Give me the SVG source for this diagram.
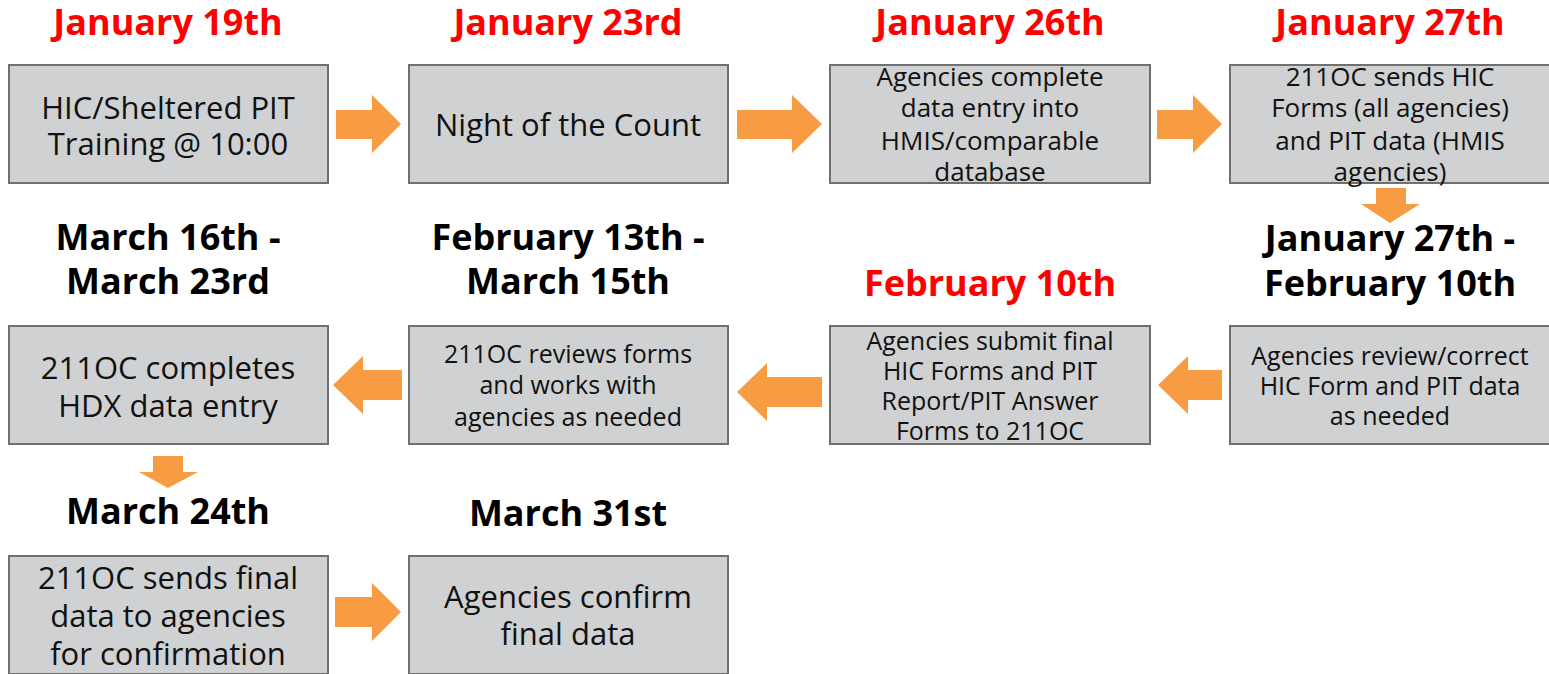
<svg xmlns="http://www.w3.org/2000/svg" width="1549" height="674" viewBox="0 0 1549 674">
  <style>
    .box { fill: #d0d1d3; stroke: #707070; stroke-width: 2; }
    .date { font-family: "Open Sans", "Liberation Sans", sans-serif; font-weight: bold; font-size: 36px; text-anchor: middle; fill: #000000; }
    .red { fill: #ff0000; }
    .txt { font-family: "Open Sans", "Liberation Sans", sans-serif; font-size: 31px; text-anchor: middle; fill: #111111; }
    .sm { font-size: 26px; }
    .sm2 { font-size: 25px; }
    .arrow { fill: #f79c42; }
  </style>
  <rect width="1549" height="674" fill="#ffffff"/>

  <!-- Row 1 -->
  <g id="jan19">
    <text class="date red" x="168" y="35">January 19th</text>
    <rect class="box" x="9" y="65" width="319" height="118"/>
    <text class="txt" x="168" y="119">HIC/Sheltered PIT</text>
    <text class="txt" x="168" y="155">Training @ 10:00</text>
  </g>
  <g id="jan23">
    <text class="date red" x="568" y="35">January 23rd</text>
    <rect class="box" x="409" y="65" width="319" height="118"/>
    <text class="txt" x="568" y="136">Night of the Count</text>
  </g>
  <g id="jan26">
    <text class="date red" x="990" y="35">January 26th</text>
    <rect class="box" x="830" y="65" width="320" height="118"/>
    <text class="txt sm" x="990" y="86">Agencies complete</text>
    <text class="txt sm" x="990" y="117">data entry into</text>
    <text class="txt sm" x="990" y="150">HMIS/comparable</text>
    <text class="txt sm" x="990" y="181">database</text>
  </g>
  <g id="jan27">
    <text class="date red" x="1390" y="35">January 27th</text>
    <rect class="box" x="1230" y="65" width="320" height="118"/>
    <text class="txt sm" x="1390" y="86">211OC sends HIC</text>
    <text class="txt sm" x="1390" y="117">Forms (all agencies)</text>
    <text class="txt sm" x="1390" y="150">and PIT data (HMIS</text>
    <text class="txt sm" x="1390" y="181">agencies)</text>
  </g>

  <!-- Row 2 -->
  <g id="jan27-feb10">
    <text class="date" x="1390" y="251">January 27th -</text>
    <text class="date" x="1390" y="296">February 10th</text>
    <rect class="box" x="1230" y="326" width="320" height="118"/>
    <text class="txt sm2" x="1390" y="365">Agencies review/correct</text>
    <text class="txt sm2" x="1390" y="395">HIC Form and PIT data</text>
    <text class="txt sm2" x="1390" y="425">as needed</text>
  </g>
  <g id="feb10">
    <text class="date red" x="990" y="296">February 10th</text>
    <rect class="box" x="830" y="326" width="320" height="118"/>
    <text class="txt sm2" x="990" y="350">Agencies submit final</text>
    <text class="txt sm2" x="990" y="380">HIC Forms and PIT</text>
    <text class="txt sm2" x="990" y="410">Report/PIT Answer</text>
    <text class="txt sm2" x="990" y="440">Forms to 211OC</text>
  </g>
  <g id="feb13-mar15">
    <text class="date" x="568" y="250">February 13th -</text>
    <text class="date" x="568" y="294">March 15th</text>
    <rect class="box" x="409" y="326" width="319" height="118"/>
    <text class="txt sm2" x="568" y="363">211OC reviews forms</text>
    <text class="txt sm2" x="568" y="394">and works with</text>
    <text class="txt sm2" x="568" y="426">agencies as needed</text>
  </g>
  <g id="mar16-mar23">
    <text class="date" x="168" y="250">March 16th -</text>
    <text class="date" x="168" y="294">March 23rd</text>
    <rect class="box" x="9" y="326" width="319" height="118"/>
    <text class="txt" x="168" y="379">211OC completes</text>
    <text class="txt" x="168" y="417">HDX data entry</text>
  </g>

  <!-- Row 3 -->
  <g id="mar24">
    <text class="date" x="168" y="524">March 24th</text>
    <rect class="box" x="9" y="556" width="319" height="118"/>
    <text class="txt" x="168" y="589">211OC sends final</text>
    <text class="txt" x="168" y="627">data to agencies</text>
    <text class="txt" x="168" y="665">for confirmation</text>
  </g>
  <g id="mar31">
    <text class="date" x="568" y="526">March 31st</text>
    <rect class="box" x="409" y="556" width="319" height="118"/>
    <text class="txt" x="568" y="608">Agencies confirm</text>
    <text class="txt" x="568" y="645">final data</text>
  </g>

  <!-- Block arrows between steps -->
  <g id="connectors">
    <polygon class="arrow" points="336,110 372,110 372,95 401,124 372,153 372,139 336,139"/>
    <polygon class="arrow" points="737,110 792,110 792,95 822,124 792,153 792,139 737,139"/>
    <polygon class="arrow" points="1157,110 1193,110 1193,95 1222,124 1193,153 1193,139 1157,139"/>
    <polygon class="arrow" points="1376,188 1406,188 1406,204 1420,204 1390,223 1361,204 1376,204"/>
    <polygon class="arrow" points="1222,370 1188,370 1188,356 1158,385 1188,414 1188,400 1222,400"/>
    <polygon class="arrow" points="822,377 767,377 767,363 737,392 767,421 767,407 822,407"/>
    <polygon class="arrow" points="402,370 363,370 363,356 333,385 363,414 363,400 402,400"/>
    <polygon class="arrow" points="153,456 183,456 183,472 198,472 168,488 139,472 153,472"/>
    <polygon class="arrow" points="335,597 372,597 372,583 401,612 372,641 372,627 335,627"/>
  </g>
</svg>
